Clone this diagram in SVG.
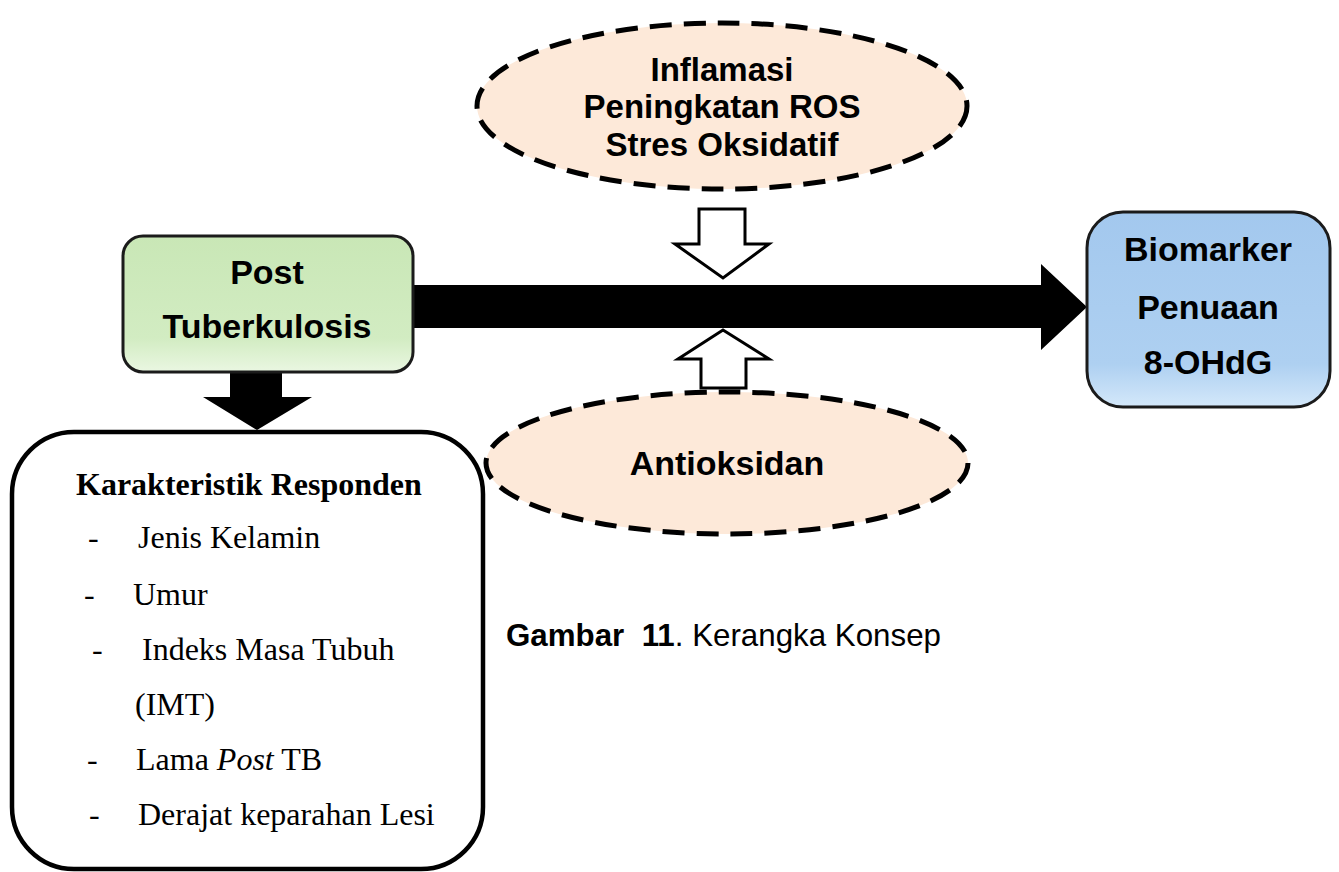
<svg xmlns="http://www.w3.org/2000/svg" width="1339" height="872" viewBox="0 0 1339 872">
<defs>
<linearGradient id="gGreen" x1="0" y1="0" x2="0" y2="1">
<stop offset="0" stop-color="#c9e7b6"/>
<stop offset="0.75" stop-color="#d2ecc2"/>
<stop offset="1" stop-color="#eaf7e2"/>
</linearGradient>
<linearGradient id="gBlue" x1="0" y1="0" x2="0" y2="1">
<stop offset="0" stop-color="#a3c8ee"/>
<stop offset="0.78" stop-color="#aed0f1"/>
<stop offset="1" stop-color="#d4e8fa"/>
</linearGradient>
<style>
.box{stroke:#1b1b1b;stroke-width:3}
.ell{fill:#fde9d9;stroke:#000;stroke-width:5;stroke-dasharray:22 12}
.hb{font-family:"Liberation Sans",Arial,sans-serif;font-weight:bold;font-size:34px;fill:#000;text-anchor:middle}
.hs{font-size:33px}
.tr{font-family:"Liberation Serif","Times New Roman",serif;font-size:32px;fill:#000}
.hollow{fill:#fff;stroke:#000;stroke-width:3;stroke-linejoin:miter}
</style>
</defs>

<g id="connectors">
<path d="M410,285 H1041 V264 L1087,307 L1041,350 V328 H410 Z" fill="#000"/>
<path d="M230,370 H282 V397 H312 L257,430 L203,397 H230 Z" fill="#000"/>
<path class="hollow" d="M699,209 H745 V244 H769 L723,278 L675,244 H699 Z"/>
<path class="hollow" d="M701,388 H746 V359 H769 L723,330 L678,359 H701 Z"/>
</g>

<g id="node-inflamasi">
<ellipse class="ell" cx="722" cy="106" rx="245" ry="83"/>
<text class="hb hs" x="722" y="81">Inflamasi</text>
<text class="hb hs" x="722" y="118">Peningkatan ROS</text>
<text class="hb hs" x="722" y="156">Stres Oksidatif</text>
</g>

<g id="node-antioksidan">
<ellipse class="ell" cx="727" cy="463" rx="241" ry="71"/>
<text class="hb" x="727" y="475">Antioksidan</text>
</g>

<g id="node-post">
<rect class="box" x="123" y="236" width="290" height="136" rx="20" fill="url(#gGreen)"/>
<text class="hb" x="267" y="284">Post</text>
<text class="hb" x="267" y="338">Tuberkulosis</text>
</g>

<g id="node-biomarker">
<rect class="box" x="1087" y="212" width="243" height="195" rx="36" fill="url(#gBlue)"/>
<text class="hb" x="1208" y="261">Biomarker</text>
<text class="hb" x="1208" y="319">Penuaan</text>
<text class="hb" x="1208" y="374">8-OHdG</text>
</g>

<g id="node-karakteristik">
<rect x="12" y="432" width="471" height="437" rx="62" fill="#fff" stroke="#000" stroke-width="4.5"/>
<text class="tr" x="76" y="495" font-weight="bold">Karakteristik Responden</text>
<text class="tr" x="88" y="548">-</text><text class="tr" x="138" y="548">Jenis Kelamin</text>
<text class="tr" x="84" y="605">-</text><text class="tr" x="133" y="605">Umur</text>
<text class="tr" x="92" y="660">-</text><text class="tr" x="142" y="660">Indeks Masa Tubuh</text>
<text class="tr" x="135" y="715">(IMT)</text>
<text class="tr" x="87" y="770">-</text><text class="tr" x="136" y="770">Lama <tspan font-style="italic">Post</tspan> TB</text>
<text class="tr" x="89" y="825">-</text><text class="tr" x="138" y="825">Derajat keparahan Lesi</text>
</g>

<text x="506" y="646" xml:space="preserve" font-family="'Liberation Sans',Arial,sans-serif" font-size="31.3" fill="#000"><tspan font-weight="bold">Gambar  11</tspan>. Kerangka Konsep</text>
</svg>
